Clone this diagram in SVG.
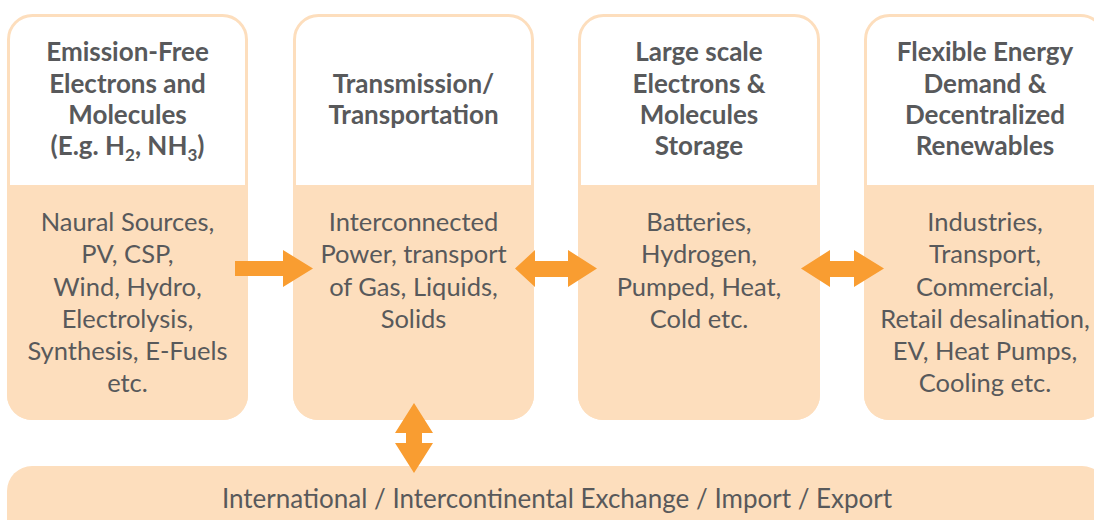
<svg xmlns="http://www.w3.org/2000/svg" width="1094" height="520" viewBox="0 0 1094 520">
<style>
.frame{fill:#FFFFFF;stroke:#FDDEBD;stroke-width:3}
.fill{fill:#FDDEBD}
.title{font-family:Lato,"Open Sans",sans-serif;font-weight:bold;font-size:26px;fill:#58595B;text-anchor:middle}
.body{font-family:Lato,"Open Sans",sans-serif;font-size:25.5px;fill:#58595B;text-anchor:middle}
.wide{font-size:26px}
.sub{font-size:17px}
.arrow{fill:#F99D31}
</style>
<rect width="1094" height="520" fill="#FFFFFF"/>
<g id="node-sources">
<rect class="frame" x="8.5" y="15.5" width="238" height="403" rx="24"/>
<path class="fill" d="M7,185 H248 V395 A25,25 0 0 1 223,420 H32 A25,25 0 0 1 7,395 Z"/>
<text class="title" x="127.5" y="61">Emission-Free</text>
<text class="title" x="127.5" y="93">Electrons and</text>
<text class="title" x="127.5" y="124">Molecules</text>
<text class="title" x="127.5" y="155">(E.g. H<tspan class="sub" dy="6">2</tspan><tspan dy="-6">, NH</tspan><tspan class="sub" dy="6">3</tspan><tspan dy="-6">)</tspan></text>
<text class="body" x="127.5" y="231">Naural Sources,</text>
<text class="body" x="127.5" y="263">PV, CSP,</text>
<text class="body" x="127.5" y="296">Wind, Hydro,</text>
<text class="body" x="127.5" y="328">Electrolysis,</text>
<text class="body" x="127.5" y="360">Synthesis, E-Fuels</text>
<text class="body" x="127.5" y="392">etc.</text>
</g>
<g id="node-transmission">
<rect class="frame" x="294.5" y="15.5" width="238" height="403" rx="24"/>
<path class="fill" d="M293,185 H534 V395 A25,25 0 0 1 509,420 H318 A25,25 0 0 1 293,395 Z"/>
<text class="title" x="413.5" y="93">Transmission/</text>
<text class="title" x="413.5" y="124">Transportation</text>
<text class="body" x="413.5" y="231">Interconnected</text>
<text class="body" x="413.5" y="263">Power, transport</text>
<text class="body" x="413.5" y="296">of Gas, Liquids,</text>
<text class="body" x="413.5" y="328">Solids</text>
</g>
<g id="node-storage">
<rect class="frame" x="579.5" y="15.5" width="239" height="403" rx="24"/>
<path class="fill" d="M578,185 H820 V395 A25,25 0 0 1 795,420 H603 A25,25 0 0 1 578,395 Z"/>
<text class="title" x="699" y="61">Large scale</text>
<text class="title" x="699" y="93">Electrons &amp;</text>
<text class="title" x="699" y="124">Molecules</text>
<text class="title" x="699" y="155">Storage</text>
<text class="body" x="699" y="231">Batteries,</text>
<text class="body" x="699" y="263">Hydrogen,</text>
<text class="body" x="699" y="296">Pumped, Heat,</text>
<text class="body" x="699" y="328">Cold etc.</text>
</g>
<g id="node-demand">
<rect class="frame" x="865.5" y="15.5" width="239" height="403" rx="24"/>
<path class="fill" d="M864,185 H1106 V395 A25,25 0 0 1 1081,420 H889 A25,25 0 0 1 864,395 Z"/>
<text class="title" x="985" y="61">Flexible Energy</text>
<text class="title" x="985" y="93">Demand &amp;</text>
<text class="title" x="985" y="124">Decentralized</text>
<text class="title" x="985" y="155">Renewables</text>
<text class="body" x="985" y="231">Industries,</text>
<text class="body" x="985" y="263">Transport,</text>
<text class="body" x="985" y="296">Commercial,</text>
<text class="body" x="985" y="328">Retail desalination,</text>
<text class="body" x="985" y="360">EV, Heat Pumps,</text>
<text class="body" x="985" y="392">Cooling etc.</text>
</g>
<g id="node-exchange">
<rect class="fill" x="7" y="466" width="1100" height="90" rx="25"/>
<text class="body wide" x="557" y="508">International / Intercontinental Exchange / Import / Export</text>
</g>
<g id="connectors">
<polygon class="arrow" points="235,261 283,261 283,250 313,268.5 283,287 283,276 235,276"/>
<polygon class="arrow" points="515,268.5 535,250 535,261 568,261 568,250 597,268.5 568,287 568,277 535,277 535,287"/>
<polygon class="arrow" points="801,268.5 830,250 830,261 854,261 854,250 884,268.5 854,287 854,277 830,277 830,287"/>
<polygon class="arrow" points="414,403 433,433 422,433 422,443 433,443 414,473 395,443 406,443 406,433 395,433"/>
</g>
</svg>
